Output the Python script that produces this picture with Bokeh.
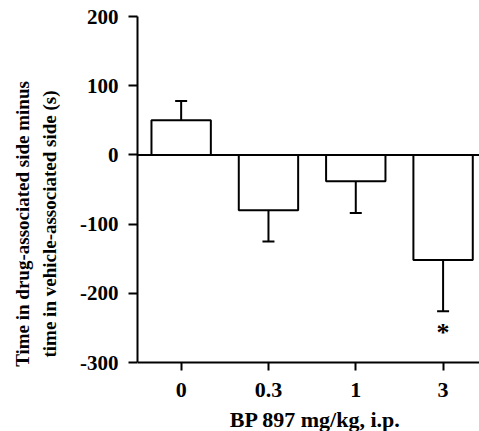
from bokeh.plotting import figure
from bokeh.models import Range1d, FixedTicker, Span, ColumnDataSource, LinearAxis
from bokeh.core.properties import value
from bokeh.embed import file_html
from bokeh.resources import INLINE

doses = ["0", "0.3", "1", "3"]
means = [50, -80, -38, -152]
sems = [28, 45, 46, 74]
y_ticks = [-300, -200, -100, 0, 100, 200]
y_tick_labels = ["-300", "-200", "-100", "0", "100", "200"]
y_label_lines = ["Time in drug-associated side minus", "time in vehicle-associated side (s)"]
x_label = "BP 897 mg/kg, i.p."
sig_dose_index = [3]
sig_y = [-256]

xpos = list(range(len(doses)))
ends = [m + s if m >= 0 else m - s for m, s in zip(means, sems)]

FONT = "Liberation Serif"
Y_MIN, Y_MAX = y_ticks[0], y_ticks[-1]

p = figure(width=479, height=431, output_backend="svg", toolbar_location=None,
           x_range=Range1d(-0.5, 3.417), y_range=Range1d(-399.7, Y_MAX),
           min_border_left=137, min_border_top=16, min_border_right=0, min_border_bottom=0)
p.outline_line_color = None
p.grid.grid_line_color = None
p.background_fill_color = "white"

src = ColumnDataSource(dict(x=xpos, top=means, end=ends))
p.vbar(x="x", top="top", bottom=0, width=0.68, source=src,
       fill_color="white", line_color="black", line_width=2)
p.segment(x0="x", y0="top", x1="x", y1="end", source=src, line_color="black", line_width=2)
p.rect(x="x", y="end", width=12, height=2, width_units="screen", height_units="screen",
       source=src, fill_color="black", line_color=None)

p.add_layout(Span(location=0, dimension="width", line_color="black", line_width=2))

p.text(x=[xpos[i] for i in sig_dose_index], y=sig_y, text=["*"], text_font=value(FONT),
       text_font_style="bold", text_font_size="26px", text_align="center",
       text_baseline="middle", text_color="black")

# x-axis title drawn as text below the axis line (kept inside the frame)
p.text(x=[1.538], y=[-383], text=[x_label], text_font=value(FONT),
       text_font_style="bold", text_font_size="22px", text_align="center",
       text_baseline="alphabetic", text_color="black")

p.yaxis.ticker = FixedTicker(ticks=y_ticks)
p.yaxis.major_label_overrides = {t: l for t, l in zip(y_ticks, y_tick_labels)}
p.yaxis.bounds = (Y_MIN, Y_MAX)
p.xaxis.ticker = FixedTicker(ticks=xpos)
p.xaxis.major_label_overrides = {i: d for i, d in zip(xpos, doses)}
p.xaxis.fixed_location = Y_MIN

for ax in (p.xaxis, p.yaxis):
    ax.axis_line_width = 2
    ax.axis_line_color = "black"
    ax.major_tick_line_width = 2
    ax.major_tick_line_color = "black"
    ax.major_tick_in = 0
    ax.minor_tick_line_color = None
    ax.major_label_text_font = FONT
    ax.major_label_text_font_style = "bold"
    ax.major_label_text_color = "black"
    ax.axis_label_text_font = FONT
    ax.axis_label_text_font_style = "bold"
    ax.axis_label_text_color = "black"

p.yaxis.major_label_text_font_size = "21px"
p.xaxis.major_label_text_font_size = "22px"

p.yaxis.major_tick_out = 9
p.yaxis.major_label_standoff = 10
p.yaxis.axis_label = y_label_lines[1]
p.yaxis.axis_label_text_font_size = "19px"
p.yaxis.axis_label_standoff = 17

extra = LinearAxis(ticker=FixedTicker(ticks=[]), axis_line_color=None,
                   major_tick_line_color=None, minor_tick_line_color=None,
                   axis_label=y_label_lines[0], axis_label_standoff=4,
                   axis_label_text_font=FONT, axis_label_text_font_style="bold",
                   axis_label_text_font_size="19px", axis_label_text_color="black")
p.add_layout(extra, "left")

p.xaxis.major_tick_out = 8
p.xaxis.major_label_standoff = 12

open("out.html", "w").write(file_html(p, INLINE))
